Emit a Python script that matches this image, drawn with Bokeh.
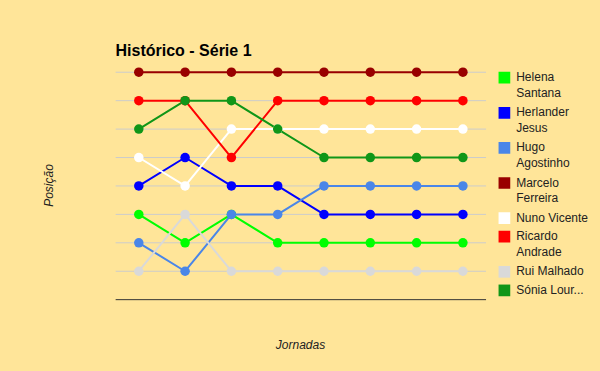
import math
from bokeh.plotting import figure
from bokeh.models import Range1d, Label
from bokeh.core.properties import value
from bokeh.embed import file_html
from bokeh.resources import INLINE

# ---- data ----
jornadas = [1, 2, 3, 4, 5, 6, 7, 8]
series_names = ["Helena Santana", "Herlander Jesus", "Hugo Agostinho", "Marcelo Ferreira",
                "Nuno Vicente", "Ricardo Andrade", "Rui Malhado", "Sónia Lourenço"]
legend_labels = ["Helena\nSantana", "Herlander\nJesus", "Hugo\nAgostinho", "Marcelo\nFerreira",
                 "Nuno Vicente", "Ricardo\nAndrade", "Rui Malhado", "Sónia Lour..."]
helena = [6, 7, 6, 7, 7, 7, 7, 7]
herlander = [5, 4, 5, 5, 6, 6, 6, 6]
hugo = [7, 8, 6, 6, 5, 5, 5, 5]
marcelo = [1, 1, 1, 1, 1, 1, 1, 1]
nuno = [4, 5, 3, 3, 3, 3, 3, 3]
ricardo = [2, 2, 4, 2, 2, 2, 2, 2]
rui = [8, 6, 8, 8, 8, 8, 8, 8]
sonia = [3, 2, 2, 3, 4, 4, 4, 4]
positions = [1, 2, 3, 4, 5, 6, 7, 8]
colors = ["#00FF00", "#0000FF", "#4A86E8", "#990000", "#FFFFFF", "#FF0000", "#D9D9D9", "#109618"]
title_text = "Histórico - Série 1"
x_title = "Jornadas"
y_title = "Posição"

all_series = [helena, herlander, hugo, marcelo, nuno, ricardo, rui, sonia]

BG = "#FFE599"
FONT = "Liberation Sans"
W, H = 584, 355

# pixel geometry of the chart area (page pixels) -> data mapping
X0_PX, DX_PX = 115.15, 46.3   # x = 0.5 at 115.15 px, 46.3 px per jornada
Y0_PX, DY_PX = 43.3, 28.43    # position 0 at 43.3 px, 28.43 px per position


def dx(px):
    return 0.5 + (px - X0_PX) / DX_PX


def dy(py):
    return (py - Y0_PX) / DY_PX


p = figure(width=W, height=H, output_backend="svg", toolbar_location=None,
           x_range=Range1d(dx(8), dx(8 + W)), y_range=Range1d(dy(8 + H), dy(8)),
           min_border=0, min_border_left=0, min_border_right=0,
           min_border_top=0, min_border_bottom=0,
           background_fill_color=BG, border_fill_color=BG, outline_line_color=None)
p.title.visible = False
p.axis.visible = False
p.grid.visible = False

# horizontal gridlines at each position, baseline at bottom
x_lo, x_hi = jornadas[0] - 0.5, jornadas[-1] + 0.5
p.segment(x0=[x_lo] * len(positions), x1=[x_hi] * len(positions), y0=positions, y1=positions,
          line_color="#CCCCCC", line_width=1)
bottom = positions[-1] + 1
p.segment(x0=[x_lo], x1=[x_hi], y0=[bottom], y1=[bottom], line_color="#333333", line_width=1)

for ys, c in zip(all_series, colors):
    p.line(jornadas, ys, line_color=c, line_width=2)
for ys, c in zip(all_series, colors):
    p.scatter(jornadas, ys, size=9.5, fill_color=c, line_color=c, line_width=0)

p.add_layout(Label(x=dx(115), y=dy(50), text=title_text, text_font=FONT, text_font_size="16px",
                   text_font_style="bold", text_color="#000000", text_align="left",
                   text_baseline="alphabetic"))
p.add_layout(Label(x=dx(300), y=dy(344), text=x_title, text_font=FONT, text_font_size="12px",
                   text_font_style="italic", text_color="#222222", text_align="center",
                   text_baseline="middle"))
p.add_layout(Label(x=dx(48), y=dy(185), text=y_title, text_font=FONT, text_font_size="12px",
                   text_font_style="italic", text_color="#222222", text_align="center",
                   text_baseline="middle", angle=math.pi / 2))

# ---- legend ----
sq_x, sq_y, sq_c = [], [], []
tx, ty, tt = [], [], []
ypx = 76.7
for lab, c in zip(legend_labels, colors):
    lines = lab.split("\n")
    sq_x.append(dx(503.9)); sq_y.append(dy(ypx + 0.5)); sq_c.append(c)
    for i, ln in enumerate(lines):
        tx.append(dx(515.7)); ty.append(dy(ypx + i * 15.4)); tt.append(ln)
    ypx += 18.6 + (len(lines) - 1) * 16.5

p.scatter(sq_x, sq_y, marker="square", size=11.7, fill_color=sq_c, line_color=None)
p.text(tx, ty, text=tt, text_font=value(FONT), text_font_size="12px", text_color="#222222",
       text_align="left", text_baseline="middle")

html = file_html(p, INLINE)
html = html.replace("</head>", "<style>html,body{background:%s;}body{margin:8px;}</style></head>" % BG, 1)
open("out.html", "w").write(html)
